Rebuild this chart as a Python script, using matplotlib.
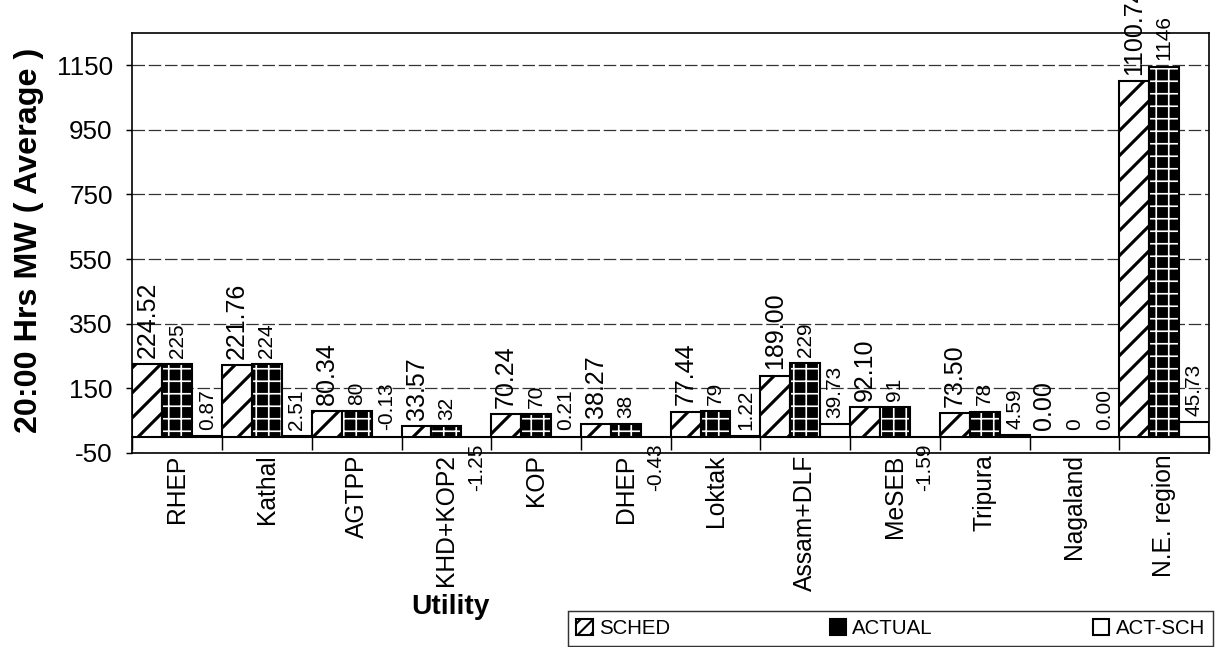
import numpy as np
import matplotlib.pyplot as plt
from matplotlib.patches import Patch

# === DATA ===
utilities = ['RHEP', 'Kathal', 'AGTPP', 'KHD+KOP2', 'KOP', 'DHEP', 'Loktak',
             'Assam+DLF', 'MeSEB', 'Tripura', 'Nagaland', 'N.E. region']
sched = [224.52, 221.76, 80.34, 33.57, 70.24, 38.27, 77.44, 189.00, 92.10, 73.50, 0.00, 1100.74]
actual = [225, 224, 80, 32, 70, 38, 79, 229, 91, 78, 0, 1146]
act_sch = [0.87, 2.51, -0.13, -1.25, 0.21, -0.43, 1.22, 39.73, -1.59, 4.59, 0.00, 45.73]
series_names = ['SCHED', 'ACTUAL', 'ACT-SCH']
yticks = [-50, 150, 350, 550, 750, 950, 1150]

plt.rcParams['font.family'] = ['Liberation Sans', 'DejaVu Sans']
plt.rcParams['axes.unicode_minus'] = False

# dpi 150 so the hatch grid comes out ~12 px like the scan
fig = plt.figure(figsize=(8.1, 647 / 150), dpi=150)
ax = fig.add_axes([0.109, 0.300, 0.886, 0.649])

x = np.arange(len(utilities))
w = 1 / 3

# === BARS ===
with plt.rc_context({'hatch.linewidth': 1.5}):
    b1 = ax.bar(x - w, sched, w, facecolor='white', edgecolor='black', hatch='//', lw=1.0, zorder=3)
with plt.rc_context({'hatch.linewidth': 0.8}):
    b2 = ax.bar(x, actual, w, facecolor='black', edgecolor='white', hatch='++', lw=0, zorder=3)
ax.bar(x, actual, w, facecolor='none', edgecolor='black', lw=1.0, zorder=4)
b3 = ax.bar(x + w, act_sch, w, facecolor='white', edgecolor='black', lw=1.0, zorder=3)


def label_bars(bars, vals, fmt, size):
    for rect, v in zip(bars, vals):
        below = v < -0.3  # tiny negatives are printed above in the original
        xc = rect.get_x() + rect.get_width() / 2
        ax.annotate(fmt.format(v), (xc, 0 if below else max(v, 0)),
                    xytext=(0, -3.3 if below else 3), textcoords='offset points',
                    rotation=90, ha='center', va='top' if below else 'bottom',
                    fontsize=size, zorder=5, annotation_clip=False)


label_bars(b1, sched, '{:.2f}', 12)
label_bars(b2, actual, '{:d}', 10)
label_bars(b3, act_sch, '{:.2f}', 10)

# === AXES ===
ax.set_xlim(-0.5, len(utilities) - 0.5)
ax.set_ylim(-50, 1250)
ax.set_yticks(yticks)
ax.tick_params(axis='y', labelsize=12.5, length=3, width=0.7, pad=6.5)
ax.yaxis.grid(True, color='#333333', lw=0.6, ls=(0, (10, 3)))
ax.set_axisbelow(True)

ax.spines['bottom'].set_position(('data', 0))
ax.set_xticks(x)
ax.set_xticklabels(utilities, rotation=90, fontsize=11.8)
ax.tick_params(axis='x', which='major', length=0, pad=8.5)
ax.set_xticks(np.arange(len(utilities) + 1) - 0.5, minor=True)
ax.tick_params(axis='x', which='minor', length=6, width=0.7, direction='out')
ax.axhline(-50, color='black', lw=0.8, clip_on=False)
for s in ax.spines.values():
    s.set_linewidth(0.8)

fig.text(29 / 1215, 1 - 240 / 647, '20:00 Hrs MW ( Average )', rotation=90,
         ha='center', va='center', fontsize=15.5, fontweight='bold')
fig.text(450 / 1215, 1 - 607 / 647, 'Utility', ha='center', va='center',
         fontsize=13.5, fontweight='bold')

# === LEGEND ===
handles = [Patch(facecolor='white', edgecolor='black', hatch='////'),
           Patch(facecolor='black', edgecolor='black'),
           Patch(facecolor='white', edgecolor='black')]
leg = fig.legend(handles, series_names, ncol=3, loc='upper left',
                 bbox_to_anchor=(568 / 1215, -0.05, 645 / 1215, 0.0556 + 0.05),
                 mode='expand', fontsize=9.8, frameon=True, fancybox=False,
                 edgecolor='black', handlelength=0.8, handleheight=0.8,
                 handletextpad=0.3, borderaxespad=0)
leg.get_frame().set_linewidth(0.7)

fig.savefig('out.png', dpi=150)
